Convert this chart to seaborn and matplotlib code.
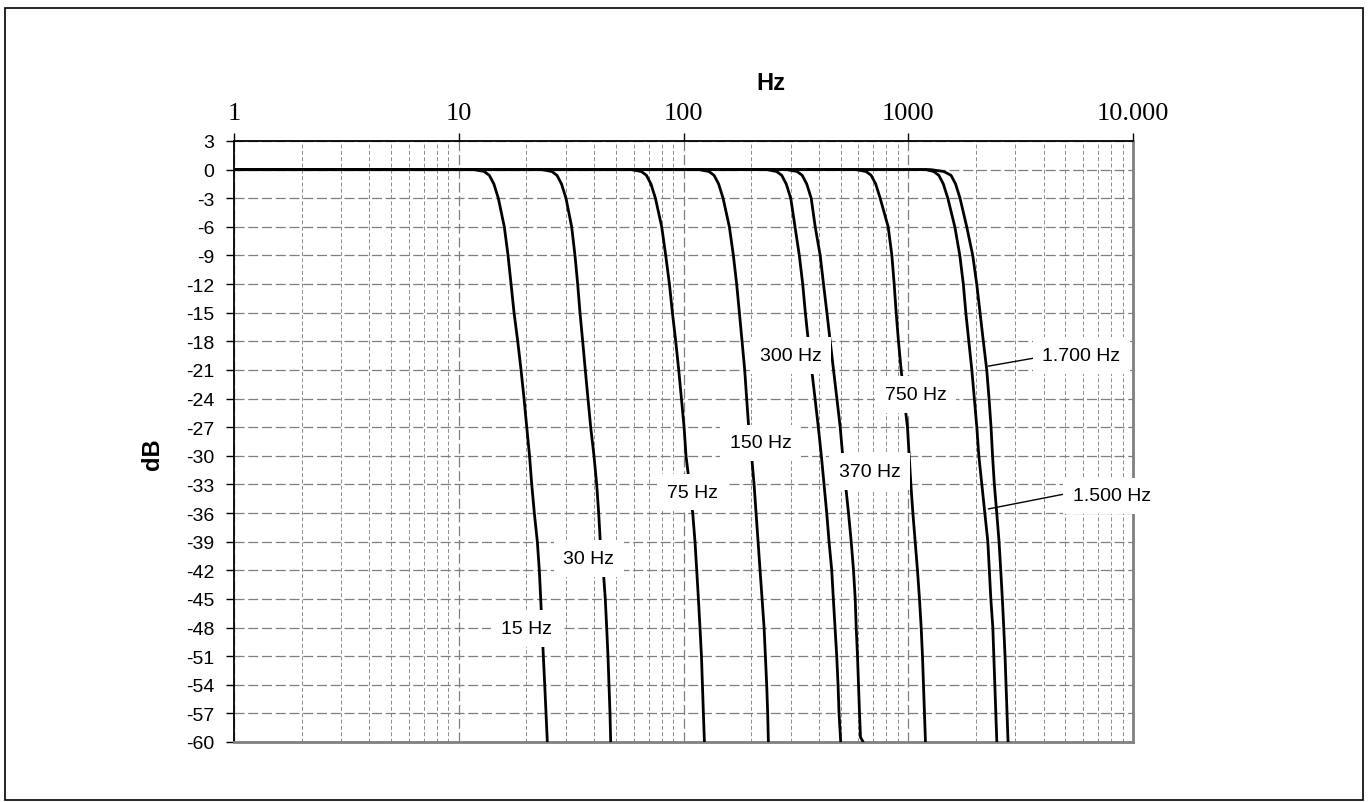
import numpy as np
import pandas as pd
import matplotlib
matplotlib.use("Agg")
import matplotlib.pyplot as plt
import seaborn as sns
from matplotlib.patches import Rectangle
from matplotlib.ticker import FixedLocator, LogLocator, NullFormatter

# ---------------- data ----------------
levels = [0, 0, -0.2, -0.6, -1.5, -3, -6, -9, -12, -15, -18, -21, -24, -27,
          -30, -33, -36, -39, -42, -45, -48, -51, -54, -57, -60]
levels_370 = [0, 0, -0.2, -0.6, -1.5, -3, -6, -9, -12, -15, -18, -21, -24, -27,
              -30, -33, -36, -39, -42, -45, -48, -51, -54, -57, -59.5, -60]

f15 = [1, 11.73, 12.99, 13.68, 14.33, 15.0, 15.95, 16.57, 17.09, 17.62, 18.30, 18.93,
       19.52, 20.07, 20.65, 21.12, 21.69, 22.37, 22.83, 23.16, 23.47, 23.79, 24.13, 24.45, 24.78]
f30 = [1, 23.46, 25.98, 27.36, 28.65, 30.0, 31.80, 32.90, 33.82, 34.63, 35.60, 36.56,
       37.58, 38.64, 39.97, 41.09, 41.94, 42.63, 43.96, 44.87, 45.52, 46.13, 46.61, 47.09, 47.43]
f75 = [1, 58.65, 64.95, 68.40, 71.63, 75.0, 80.0, 83.35, 86.57, 89.27, 92.34, 95.22,
       97.89, 100.6, 102.6, 106.3, 109.9, 112.5, 114.5, 116.5, 118.4, 120.2, 121.4, 122.6, 123.9]
f150 = [1, 117.3, 129.9, 136.8, 143.3, 150.0, 160.0, 166.7, 172.4, 177.3, 182.2, 187.2,
        191.0, 195.0, 200.9, 206.1, 210.3, 214.7, 219.1, 223.7, 228.3, 231.4, 234.5, 236.9, 238.6]
f300 = [1, 234.6, 259.8, 273.6, 286.5, 300.0, 313.5, 327.6, 339.2, 348.4, 359.3, 372.0,
        384.8, 398.0, 410.5, 422.0, 433.8, 444.2, 456.6, 464.2, 472.3, 480.6, 487.1, 492.1, 500.7]
f370 = [1, 289.3, 320.4, 337.4, 353.4, 370.0, 385.5, 405.7, 419.7, 434.6, 449.5, 465.0,
        481.4, 498.0, 510.9, 525.8, 542.2, 557.4, 570.7, 580.8, 586.7, 594.6, 600.7, 606.9,
        613.1, 630.3]
f750 = [1, 586.5, 649.5, 684.0, 716.3, 750.0, 814.1, 845.5, 865.7, 883.6, 904.7, 930.0,
        959.1, 992.0, 1009.5, 1027.2, 1048.5, 1073.5, 1099.1, 1121.9, 1141.6, 1156.9, 1168.8,
        1180.8, 1193.0]
f1500 = [1, 1200, 1299, 1368, 1432.5, 1500, 1611.6, 1696.2, 1758.2, 1803.8, 1860.0, 1918.2,
         1967.9, 2019.0, 2060.7, 2125.0, 2191.4, 2259.9, 2294.9, 2330.4, 2378.6, 2403.0,
         2427.9, 2452.8, 2478.0]
f1700 = [1, 1260, 1440, 1550.4, 1623.5, 1700, 1820.9, 1936.3, 2017.2, 2086.6, 2158.3,
         2234.8, 2288.2, 2335.5, 2371.7, 2415.9, 2476.1, 2535.0, 2579.6, 2622.3, 2660.2,
         2695.7, 2723.4, 2751.6, 2779.8]

curve_names = ["15 Hz", "30 Hz", "75 Hz", "150 Hz", "300 Hz", "370 Hz", "750 Hz",
               "1.500 Hz", "1.700 Hz"]
curve_freqs = [f15, f30, f75, f150, f300, f370, f750, f1500, f1700]
curve_levels = [levels, levels, levels, levels, levels, levels_370, levels, levels, levels]

# label annotations
label_text = ["15 Hz", "30 Hz", "75 Hz", "150 Hz", "300 Hz", "370 Hz", "750 Hz",
              "1.700 Hz", "1.500 Hz"]
label_f = [20.0, 37.9, 109.9, 220.0, 300.3, 672.4, 1077.0, 5902.0, 8067.0]
label_db = [-48.1, -40.75, -33.8, -28.65, -19.5, -31.66, -23.55, -19.47, -34.2]

leader_1700_f = [2271.0, 3664.0]
leader_1700_db = [-20.6, -19.74]
leader_1500_f = [2271.0, 5070.0]
leader_1500_db = [-35.57, -33.96]

xtick_values = [1, 10, 100, 1000, 10000]
xtick_labels = ["1", "10", "100", "1000", "10.000"]
ytick_values = list(range(3, -61, -3))
ytick_labels = [str(v) for v in ytick_values]

# ---------------- plotting ----------------
sns.set_theme(style="white")
plt.rcParams["font.family"] = ["Liberation Sans", "DejaVu Sans"]

W, H = 1368, 803
fig = plt.figure(figsize=(W / 100, H / 100), dpi=100)
ax = fig.add_axes([234 / W, 1 - 743 / H, 899 / W, 601 / H])
ax.set_xscale("log")

frames = []
for name, fr, lv in zip(curve_names, curve_freqs, curve_levels):
    frames.append(pd.DataFrame({"Hz": fr, "dB": lv, "curve": name}))
df = pd.concat(frames, ignore_index=True)

sns.lineplot(data=df, x="Hz", y="dB", hue="curve", palette={n: "black" for n in curve_names},
             estimator=None, sort=False, linewidth=2.0, legend=False, ax=ax, zorder=3)
for ln in ax.get_lines():
    ln.set_solid_joinstyle("round")

ax.set_xlim(1, 10000)
ax.set_ylim(-60, 3)

# ticks
ax.xaxis.set_major_locator(FixedLocator(xtick_values))
ax.xaxis.set_minor_locator(LogLocator(base=10, subs=np.arange(2, 10)))
ax.xaxis.set_minor_formatter(NullFormatter())
ax.xaxis.tick_top()
ax.set_xticks(xtick_values)
ax.set_xticklabels(xtick_labels, fontfamily=["Liberation Serif", "DejaVu Serif"], fontsize=19,
                   color="black")
ax.set_yticks(ytick_values)
ax.set_yticklabels(ytick_labels, fontsize=14, color="black")
ax.tick_params(axis="x", which="major", top=True, bottom=False, labeltop=True,
               labelbottom=False, length=6, width=1, color="black", direction="out", pad=6)
ax.tick_params(axis="x", which="minor", length=0, top=False, bottom=False)
ax.tick_params(axis="y", which="major", left=True, length=6, width=1, color="black",
               direction="out", pad=8)

# grid
ax.set_axisbelow(True)
ax.grid(True, which="major", axis="y", color="#7f7f7f", lw=0.9, ls=(0, (8, 3)))
ax.grid(True, which="major", axis="x", color="#7f7f7f", lw=0.9, ls=(0, (8, 3)))
ax.grid(True, which="minor", axis="x", color="#8c8c8c", lw=0.7, ls=(0, (4, 2.5)))

# spines
for s in ["left", "top"]:
    ax.spines[s].set_color("black")
    ax.spines[s].set_linewidth(1.3)
for s in ["right", "bottom"]:
    ax.spines[s].set_color("#808080")
    ax.spines[s].set_linewidth(2.0)

# axis labels
ax.set_xlabel("Hz", fontsize=17, fontweight="bold", color="black")
ax.xaxis.set_label_position("top")
ax.xaxis.set_label_coords(0.597, 1.098)
ax.xaxis.label.set_verticalalignment("center")
ax.xaxis.label.set_horizontalalignment("center")

ax.set_ylabel("dB", fontsize=17, fontweight="bold", color="black")
ax.yaxis.set_label_coords(-0.091, 0.48)
ax.yaxis.label.set_verticalalignment("center")
ax.yaxis.label.set_horizontalalignment("center")

# leader lines
ax.plot(leader_1700_f, leader_1700_db, color="black", lw=1.0, zorder=4)
ax.plot(leader_1500_f, leader_1500_db, color="black", lw=1.0, zorder=4)

# curve labels
for t, fx, dy in zip(label_text, label_f, label_db):
    ax.text(fx, dy, t, ha="center", va="center", fontsize=14, color="black", zorder=6,
            bbox=dict(facecolor="white", edgecolor="none", boxstyle="square,pad=0.5"))

# outer frame
fig.add_artist(Rectangle((5 / W, 2 / H), 1358 / W, 792 / H, transform=fig.transFigure,
                         fill=False, edgecolor="black", linewidth=1.2))

fig.savefig("out.png", dpi=100, facecolor="white")
